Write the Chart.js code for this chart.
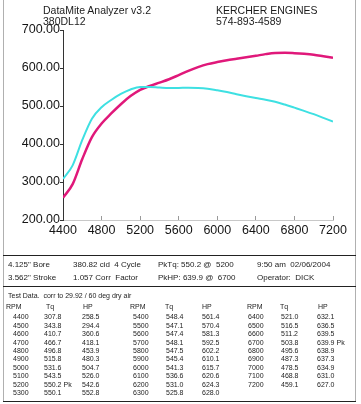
<!DOCTYPE html>
<html><head><meta charset="utf-8">
<script src="https://cdn.jsdelivr.net/npm/chart.js@4"></script>
<style>
html,body{margin:0;padding:0;background:#fff;}
#wrap{position:relative;width:361px;height:404px;overflow:hidden;font-family:"Liberation Sans",Arial,sans-serif;color:#1c1c1c;}
#c{position:absolute;left:0;top:0;}
.t{position:absolute;white-space:nowrap;line-height:1;}
.hl{position:absolute;left:3px;width:353px;height:1px;background:#222;}
.vl{position:absolute;top:0;width:1px;height:402px;background:#b0b0b0;}
</style></head>
<body><div id="wrap"><canvas id="c" width="361" height="250"></canvas></div>
<script>
const rpm = [4400,4500,4600,4700,4800,4900,5000,5100,5200,5300,5400,5500,5600,5700,5800,5900,6000,6100,6200,6300,6400,6500,6600,6700,6800,6900,7000,7100,7200];
const torque = [307.8,343.8,410.7,466.7,496.8,515.8,531.6,543.5,550.2,550.1,548.4,547.1,547.4,548.1,547.5,545.4,541.3,536.6,531.0,525.8,521.0,516.5,511.2,503.8,495.6,487.3,478.5,468.8,459.1];
const horsepower = [258.5,294.4,360.6,418.1,453.9,480.3,504.7,526.0,542.6,552.8,561.4,570.4,581.3,592.5,602.2,610.1,615.7,620.6,624.3,628.0,632.1,636.5,639.5,639.9,638.9,637.3,634.9,631.0,627.0];
const xTicks = [4400,4800,5200,5600,6000,6400,6800,7200];
const yTicks = [200,300,400,500,600,700];
const headerLeft = ["DataMite Analyzer v3.2","380DL12"];
const headerRight = ["KERCHER ENGINES","574-893-4589"];
const infoRow1 = ["4.125\" Bore","380.82 cid  4 Cycle","PkTq: 550.2 @  5200","9:50 am  02/06/2004"];
const infoRow2 = ["3.562\" Stroke","1.057 Corr  Factor","PkHP: 639.9 @  6700","Operator:  DICK"];
const tableTitle = "Test Data.  corr to 29.92 / 60 deg dry air";
const colHeads = ["RPM","Tq","HP"];

const FONT = '"Liberation Sans", Arial, sans-serif';
const wrap = document.getElementById('wrap');
function txt(s, x, cy, size, extra){
  const d = document.createElement('div');
  d.className = 't';
  d.textContent = s;
  d.style.left = x + 'px';
  d.style.top = (cy - size/2) + 'px';
  d.style.fontSize = size + 'px';
  if (extra) Object.assign(d.style, extra);
  wrap.appendChild(d);
}
function hline(y){ const d=document.createElement('div'); d.className='hl'; d.style.top=y+'px'; wrap.appendChild(d); }
function vline(x){ const d=document.createElement('div'); d.className='vl'; d.style.left=x+'px'; wrap.appendChild(d); }

vline(3); vline(355);
hline(255); hline(286); hline(401);

txt(headerLeft[0], 43, 10.5, 10.5);
txt(headerLeft[1], 43, 21.2, 10.5);
txt(headerRight[0], 216, 10.5, 10.5);
txt(headerRight[1], 216, 21.2, 10.5);

const infoX = [8,73,158,257];
infoRow1.forEach((s,i)=>txt(s, infoX[i], 265, 8, {whiteSpace:'pre'}));
infoRow2.forEach((s,i)=>txt(s, infoX[i], 278.3, 8, {whiteSpace:'pre'}));

txt(tableTitle, 8, 295, 7, {whiteSpace:'pre'});
const headX = [[6,46,83],[130,165,202],[247,280,318]];
const dataX = [[13,44,82],[133,166,202],[248,281,317]];
headX.forEach(set=>set.forEach((x,j)=>txt(colHeads[j], x, 306, 7)));
const tqMax = torque.indexOf(Math.max(...torque));
const hpMax = horsepower.indexOf(Math.max(...horsepower));
rpm.forEach((r,i)=>{
  const set = Math.floor(i/10), row = i%10;
  const cy = 316.7 + row*8.44;
  const xs = dataX[set];
  txt(String(r), xs[0], cy, 7);
  txt(torque[i].toFixed(1) + (i===tqMax ? ' Pk' : ''), xs[1], cy, 7, {whiteSpace:'pre'});
  txt(horsepower[i].toFixed(1) + (i===hpMax ? ' Pk' : ''), xs[2], cy, 7, {whiteSpace:'pre'});
});

const ctx = document.getElementById('c').getContext('2d');
new Chart(ctx, {
  type: 'line',
  data: {
    datasets: [
      {label:'Tq', data: rpm.map((r,i)=>({x:r, y:torque[i]})), borderColor:'#3ee0e2', borderWidth:2, pointRadius:0, cubicInterpolationMode:'monotone', fill:false},
      {label:'HP', data: rpm.map((r,i)=>({x:r, y:horsepower[i]})), borderColor:'#e0187a', borderWidth:2.5, pointRadius:0, cubicInterpolationMode:'monotone', fill:false}
    ]
  },
  options: {
    responsive:false, animation:false, devicePixelRatio:1,
    layout:{padding:{left:0, top:30, right:28, bottom:0}},
    plugins:{legend:{display:false}, tooltip:{enabled:false}},
    scales:{
      x:{
        type:'linear', min:4400, max:7200,
        afterBuildTicks: s=>{ s.ticks = xTicks.map(v=>({value:v})); },
        afterFit: s=>{ s.height = 30; },
        grid:{drawOnChartArea:false, tickLength:-4, color:'#999', lineWidth:1},
        border:{color:'#c8c8c8', width:1},
        ticks:{padding:7, color:'#151515', autoSkip:false, maxRotation:0, font:{family:FONT, size:12.5}, callback:v=>String(v)}
      },
      y:{
        type:'linear', min:200, max:700,
        afterBuildTicks: s=>{ s.ticks = yTicks.map(v=>({value:v})); },
        afterFit: s=>{ s.width = 63; },
        grid:{drawOnChartArea:false, tickLength:3, color:'#333', lineWidth:1},
        border:{color:'#333', width:1},
        ticks:{padding:0, color:'#151515', font:{family:FONT, size:12.5}, callback:v=>Number(v).toFixed(2)}
      }
    }
  }
});
</script>
</body></html>
